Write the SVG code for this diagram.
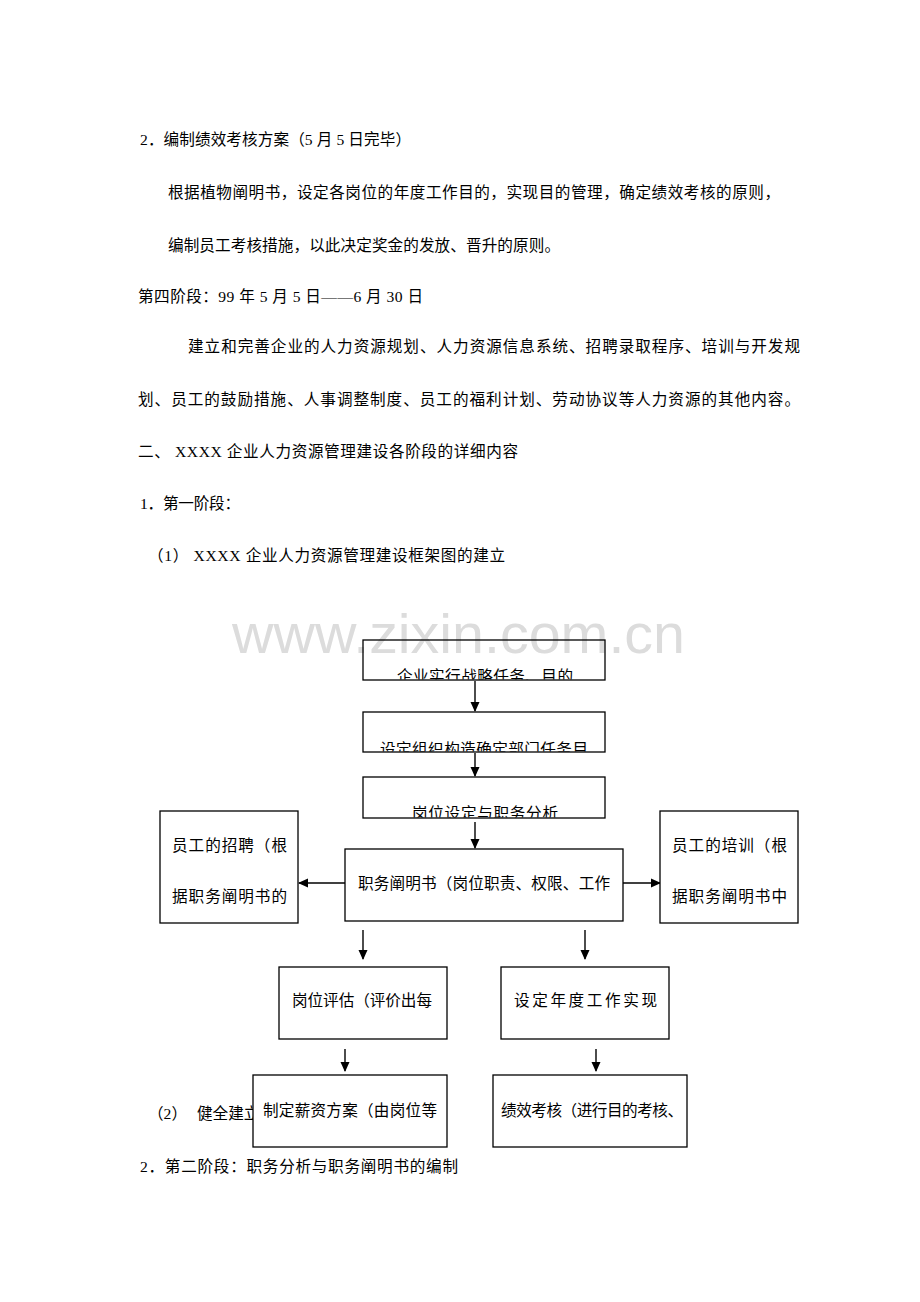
<svg xmlns="http://www.w3.org/2000/svg" width="920" height="1302" viewBox="0 0 920 1302">
<style>
.t{font-family:"Liberation Serif","Noto Sans CJK SC",serif;font-size:15.6px;fill:#000}
.b{fill:none;stroke:#000;stroke-width:1.3}
.bw{fill:#fff;stroke:#000;stroke-width:1.3}
.c{stroke:#000;stroke-width:1.4;fill:none}
.wm{font-family:"Liberation Sans",Arial,sans-serif;font-size:56px;fill:#dcdcdc}
</style>
<defs>
<marker id="ah" markerWidth="10" markerHeight="11" refX="9" refY="5.5" orient="auto" markerUnits="userSpaceOnUse">
<path d="M0,1 L10,5.5 L0,10 Z" fill="#000"/>
</marker>
<clipPath id="cp1"><rect x="363" y="640" width="242" height="39.5"/></clipPath>
<clipPath id="cp2"><rect x="363" y="712" width="242" height="39.5"/></clipPath>
<clipPath id="cp3"><rect x="363" y="777" width="242" height="40.5"/></clipPath>
</defs>
<rect width="920" height="1302" fill="#fff"/>
<g id="body-text">
<text class="t" x="140" y="145" textLength="271" lengthAdjust="spacing">2．编制绩效考核方案（5 月 5 日完毕）</text>
<text class="t" x="168" y="198" textLength="612" lengthAdjust="spacing">根据植物阐明书，设定各岗位的年度工作目的，实现目的管理，确定绩效考核的原则，</text>
<text class="t" x="168" y="251" textLength="392" lengthAdjust="spacing">编制员工考核措施，以此决定奖金的发放、晋升的原则。</text>
<text class="t" x="138" y="302" textLength="285" lengthAdjust="spacing">第四阶段：99 年 5 月 5 日——6 月 30 日</text>
<text class="t" x="188" y="352" textLength="612" lengthAdjust="spacing">建立和完善企业的人力资源规划、人力资源信息系统、招聘录取程序、培训与开发规</text>
<text class="t" x="138" y="405" textLength="662" lengthAdjust="spacing">划、员工的鼓励措施、人事调整制度、员工的福利计划、劳动协议等人力资源的其他内容。</text>
<text class="t" x="138" y="457" textLength="380" lengthAdjust="spacing">二、 XXXX 企业人力资源管理建设各阶段的详细内容</text>
<text class="t" x="140" y="509" textLength="100" lengthAdjust="spacing">1．第一阶段：</text>
<text class="t" x="148" y="561" textLength="357" lengthAdjust="spacing">（1） XXXX 企业人力资源管理建设框架图的建立</text>
<text class="t" y="1119"><tspan x="148">（2）</tspan><tspan x="197">健全建立</tspan></text>
<text class="t" x="140" y="1172" textLength="318" lengthAdjust="spacing">2．第二阶段：职务分析与职务阐明书的编制</text>
</g>
<text class="wm" x="232" y="653" textLength="453" lengthAdjust="spacingAndGlyphs">www.zixin.com.cn</text>
<g id="connectors">
<line class="c" x1="475" y1="681" x2="475" y2="711" marker-end="url(#ah)"/>
<line class="c" x1="475" y1="753" x2="475" y2="776" marker-end="url(#ah)"/>
<line class="c" x1="475" y1="822" x2="475" y2="848" marker-end="url(#ah)"/>
<line class="c" x1="345" y1="883" x2="299" y2="883" marker-end="url(#ah)"/>
<line class="c" x1="623" y1="883" x2="660" y2="883" marker-end="url(#ah)"/>
<line class="c" x1="363" y1="930" x2="363" y2="959" marker-end="url(#ah)"/>
<line class="c" x1="585" y1="930" x2="585" y2="959" marker-end="url(#ah)"/>
<line class="c" x1="345" y1="1049" x2="345" y2="1071" marker-end="url(#ah)"/>
<line class="c" x1="596" y1="1049" x2="596" y2="1071" marker-end="url(#ah)"/>
</g>
<g id="n1">
<rect class="b" x="363" y="640" width="242" height="40"/>
<text class="t" x="485" y="682" text-anchor="middle" textLength="176" lengthAdjust="spacing" clip-path="url(#cp1)">企业实行战略任务、目的</text>
</g>
<g id="n2">
<rect class="b" x="363" y="712" width="242" height="40"/>
<text class="t" x="484" y="755" text-anchor="middle" textLength="208" lengthAdjust="spacing" clip-path="url(#cp2)">设定组织构造确定部门任务目</text>
</g>
<g id="n3">
<rect class="b" x="363" y="777" width="242" height="41"/>
<text class="t" x="485" y="819" text-anchor="middle" textLength="146" lengthAdjust="spacing" clip-path="url(#cp3)">岗位设定与职务分析</text>
</g>
<g id="n4">
<rect class="bw" x="345" y="849" width="278" height="72"/>
<text class="t" x="358" y="889" textLength="252" lengthAdjust="spacing">职务阐明书（岗位职责、权限、工作</text>
</g>
<g id="n5">
<rect class="bw" x="160" y="811" width="138" height="112"/>
<text class="t" x="172" y="851" textLength="115" lengthAdjust="spacing">员工的招聘（根</text>
<text class="t" x="172" y="902" textLength="115" lengthAdjust="spacing">据职务阐明书的</text>
</g>
<g id="n6">
<rect class="bw" x="660" y="811" width="138" height="112"/>
<text class="t" x="672" y="851" textLength="115" lengthAdjust="spacing">员工的培训（根</text>
<text class="t" x="672" y="902" textLength="115" lengthAdjust="spacing">据职务阐明书中</text>
</g>
<g id="n7">
<rect class="bw" x="279" y="967" width="168" height="72"/>
<text class="t" x="292" y="1006" textLength="140" lengthAdjust="spacing">岗位评估（评价出每</text>
</g>
<g id="n8">
<rect class="bw" x="501" y="967" width="168" height="72"/>
<text class="t" x="514" y="1006" textLength="143" lengthAdjust="spacing">设定年度工作实现</text>
</g>
<g id="n9">
<rect class="bw" x="253" y="1075" width="194" height="72"/>
<text class="t" x="263" y="1116" textLength="174" lengthAdjust="spacing">制定薪资方案（由岗位等</text>
</g>
<g id="n10">
<rect class="bw" x="493" y="1075" width="194" height="72"/>
<text class="t" x="501" y="1116" textLength="182" lengthAdjust="spacing">绩效考核（进行目的考核、</text>
</g>
</svg>
